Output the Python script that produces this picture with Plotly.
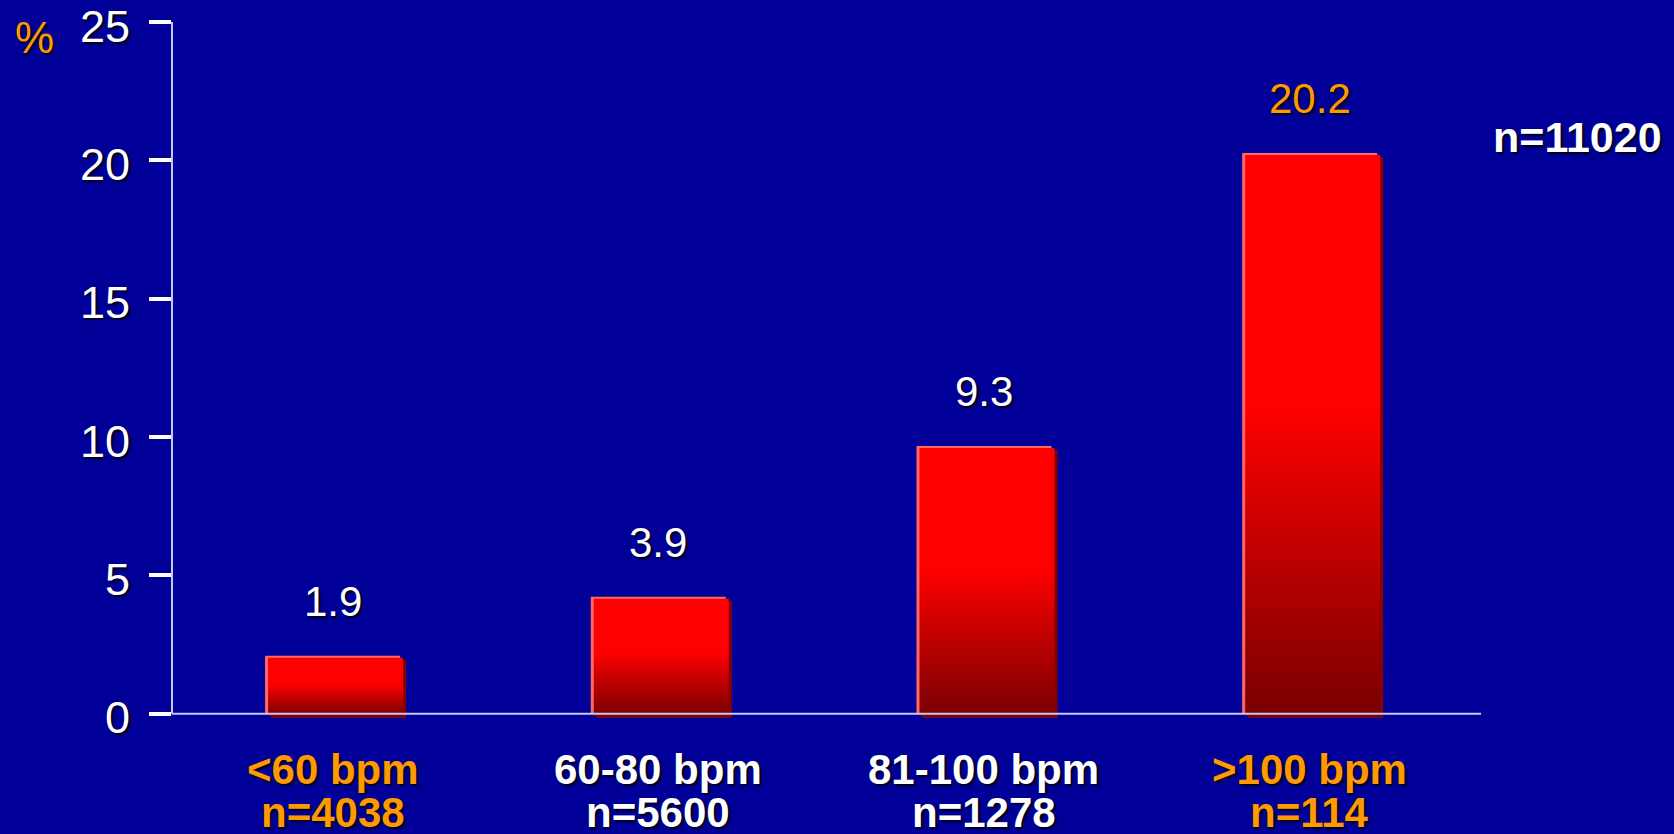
import plotly.graph_objects as go

# ---- data ----
categories = ["<60 bpm", "60-80 bpm", "81-100 bpm", ">100 bpm"]
group_sizes = ["n=4038", "n=5600", "n=1278", "n=114"]
bar_heights = [2.1, 4.23, 9.68, 20.27]
value_labels = ["1.9", "3.9", "9.3", "20.2"]
total_label = "n=11020"
y_ticks = [0, 5, 10, 15, 20, 25]
y_unit_label = "%"

# ---- styling ----
W, H = 1674, 834
ML, MR, MT, MB = 172, 193, 22, 116
X_RANGE = [-0.493, 3.526]
Y_RANGE = [-0.15, 25]
BG = "#000099"
ORANGE = "#FF9900"
WHITE = "#FFFFFF"
AXIS_LINE = "#C8C8E8"
FONT = "Liberation Sans, Arial, sans-serif"
SHADOW = "2px 2px 2px rgba(0,0,0,0.85)"
label_colors = [ORANGE, WHITE, WHITE, ORANGE]
value_colors = [WHITE, WHITE, WHITE, ORANGE]

px_x = (W - ML - MR) / (X_RANGE[1] - X_RANGE[0])
px_y = (H - MT - MB) / (Y_RANGE[1] - Y_RANGE[0])
half = 67.5 / px_x


def rect(xc, h, dxp, dyp):
    dx, dy = dxp / px_x, dyp / px_y
    xs = [xc - half + dx, xc + half + dx, xc + half + dx, xc - half + dx, xc - half + dx]
    ys = [0 - dy, 0 - dy, h - dy, h - dy, 0 - dy]
    return xs, ys


fig = go.Figure()
for i, h in enumerate(bar_heights):
    # drop shadow
    xs, ys = rect(i, h, 6, 4)
    fig.add_trace(go.Scatter(x=xs, y=ys, mode="lines", fill="toself",
                             fillcolor="#8A0000", line=dict(width=0),
                             hoverinfo="skip", showlegend=False))
    # light bevel edge
    xs, ys = rect(i, h, 0, 0)
    fig.add_trace(go.Scatter(x=xs, y=ys, mode="lines", fill="toself",
                             fillcolor="#FF6666", line=dict(width=0),
                             hoverinfo="skip", showlegend=False))
    # gradient face
    xs, ys = rect(i, h, 3, 2)
    fig.add_trace(go.Scatter(
        x=xs, y=ys, mode="lines", fill="toself", line=dict(width=0),
        fillgradient=dict(type="vertical",
                          colorscale=[[0, "#780000"], [0.55, "#FF0000"], [1, "#FF0000"]],
                          start=min(ys), stop=max(ys)),
        name=categories[i], hovertemplate=f"{categories[i]}: {value_labels[i]}%<extra></extra>",
        showlegend=False))

annotations = []
for i, h in enumerate(bar_heights):
    annotations.append(dict(
        x=i, y=h, xref="x", yref="y", text=value_labels[i], showarrow=False,
        yanchor="middle", yshift=54,
        font=dict(family=FONT, size=42, color=value_colors[i], shadow=SHADOW)))
    annotations.append(dict(
        x=i, y=0, xref="x", yref="y", text=f"<b>{categories[i].replace('<', '&lt;')}</b>",
        showarrow=False, yanchor="middle", yshift=-56,
        font=dict(family=FONT, size=42, color=label_colors[i], shadow=SHADOW)))
    annotations.append(dict(
        x=i, y=0, xref="x", yref="y", text=f"<b>{group_sizes[i]}</b>",
        showarrow=False, yanchor="middle", yshift=-99,
        font=dict(family=FONT, size=42, color=label_colors[i], shadow=SHADOW)))

# y tick labels (sit a few pixels below their tick marks, as in the reference)
for t in y_ticks:
    annotations.append(dict(
        x=0, y=t, xref="paper", yref="y", text=str(t), showarrow=False,
        xanchor="right", yanchor="middle", xshift=-40, yshift=-4,
        font=dict(family=FONT, size=45, color=WHITE, shadow=SHADOW)))

annotations.append(dict(
    x=(1577.5 - ML) / (W - ML - MR), y=(H - MB - 137) / (H - MT - MB),
    xref="paper", yref="paper", text=f"<b>{total_label}</b>", showarrow=False,
    xanchor="center", yanchor="middle",
    font=dict(family=FONT, size=43, color=WHITE, shadow=SHADOW)))
annotations.append(dict(
    x=(34 - ML) / (W - ML - MR), y=(H - MB - 37) / (H - MT - MB),
    xref="paper", yref="paper", text=y_unit_label, showarrow=False,
    xanchor="center", yanchor="middle",
    font=dict(family=FONT, size=44, color=ORANGE, shadow=SHADOW)))

shapes = [
    dict(type="line", xref="paper", yref="y", x0=0, x1=0, y0=0, y1=25,
         line=dict(color=AXIS_LINE, width=2), layer="above"),
    dict(type="line", xref="paper", yref="y", x0=0, x1=1, y0=0, y1=0,
         line=dict(color=AXIS_LINE, width=2), layer="above"),
]

fig.update_layout(
    width=W, height=H,
    margin=dict(l=ML, r=MR, t=MT, b=MB, pad=0, autoexpand=False),
    paper_bgcolor=BG, plot_bgcolor=BG,
    showlegend=False,
    annotations=annotations,
    shapes=shapes,
    xaxis=dict(range=X_RANGE, showgrid=False, zeroline=False, showline=False,
               showticklabels=False, ticks="", fixedrange=True, automargin=False),
    yaxis=dict(range=Y_RANGE, tickvals=y_ticks, showticklabels=False,
               ticks="outside", ticklen=22, tickwidth=4, tickcolor=WHITE,
               showgrid=False, zeroline=False, showline=False, automargin=False,
               fixedrange=True),
)

fig.write_html(
    "out.html",
    config={"displayModeBar": False},
    post_script="document.body.style.margin='0';document.body.style.background='#000099';",
)
